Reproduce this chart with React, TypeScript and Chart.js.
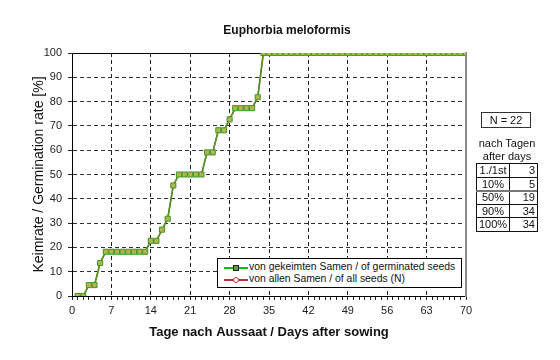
import React, { useEffect, useRef } from 'react';
import { Chart, registerables } from 'chart.js';

Chart.register(...registerables);

const chartTitle = 'Euphorbia meloformis';
const xTitle = 'Tage nach Aussaat / Days after sowing';
const yTitle = 'Keimrate / Germination rate [%]';
const seriesNames = ['von gekeimten Samen / of germinated seeds', 'von allen Samen / of all seeds (N)'];

const days = [
  1, 2, 3, 4, 5, 6, 7, 8, 9, 10, 11, 12, 13, 14, 15, 16, 17, 18, 19, 20,
  21, 22, 23, 24, 25, 26, 27, 28, 29, 30, 31, 32, 33, 34, 35, 36, 37, 38, 39, 40,
  41, 42, 43, 44, 45, 46, 47, 48, 49, 50, 51, 52, 53, 54, 55, 56, 57, 58, 59, 60,
  61, 62, 63, 64, 65, 66, 67, 68, 69, 70,
];

const germinatedPct = [
  0, 0, 4.5, 4.5, 13.6, 18.2, 18.2, 18.2, 18.2, 18.2, 18.2, 18.2, 18.2, 22.7, 22.7, 27.3, 31.8, 45.5, 50, 50,
  50, 50, 50, 59.1, 59.1, 68.2, 68.2, 72.7, 77.3, 77.3, 77.3, 77.3, 81.8, 100, 100, 100, 100, 100, 100, 100,
  100, 100, 100, 100, 100, 100, 100, 100, 100, 100, 100, 100, 100, 100, 100, 100, 100, 100, 100, 100,
  100, 100, 100, 100, 100, 100, 100, 100, 100, 100,
];

const allSeedsPct = [
  0, 0, 4.5, 4.5, 13.6, 18.2, 18.2, 18.2, 18.2, 18.2, 18.2, 18.2, 18.2, 22.7, 22.7, 27.3, 31.8, 45.5, 50, 50,
  50, 50, 50, 59.1, 59.1, 68.2, 68.2, 72.7, 77.3, 77.3, 77.3, 77.3, 81.8, 100, 100, 100, 100, 100, 100, 100,
  100, 100, 100, 100, 100, 100, 100, 100, 100, 100, 100, 100, 100, 100, 100, 100, 100, 100, 100, 100,
  100, 100, 100, 100, 100, 100, 100, 100, 100, 100,
];

const xMin = 0;
const xMax = 70;
const xMajorStep = 7;
const yMin = 0;
const yMax = 100;
const yStep = 10;

const nLabel = 'N = 22';
const tableHeader = ['nach Tagen', 'after days'];
const tableLabels = ['1./1st', '10%', '50%', '90%', '100%'];
const tableDays = [3, 5, 19, 34, 34];

const FONT = '"Liberation Sans", Arial, sans-serif';

export default function App() {
  const canvasRef = useRef<HTMLCanvasElement | null>(null);

  useEffect(() => {
    const canvas = canvasRef.current;
    if (!canvas) return;
    const chart = new Chart(canvas, {
      type: 'line',
      data: {
        datasets: [
          {
            label: seriesNames[0],
            data: days.map((d, i) => ({ x: d, y: germinatedPct[i] })),
            borderColor: '#4a9a22',
            borderWidth: 1.5,
            pointStyle: 'rect',
            pointRadius: 3.6,
            pointBackgroundColor: '#b4b44c',
            pointBorderColor: '#3a9a2a',
            pointBorderWidth: 1,
            tension: 0,
            order: 0,
          },
          {
            label: seriesNames[1],
            data: days.map((d, i) => ({ x: d, y: allSeedsPct[i] })),
            borderColor: '#b04030',
            borderWidth: 1.5,
            pointStyle: 'circle',
            pointRadius: 2,
            pointBackgroundColor: '#ffffff',
            pointBorderColor: '#c0403a',
            pointBorderWidth: 1,
            tension: 0,
            order: 1,
          },
        ],
      },
      options: {
        animation: false,
        responsive: true,
        maintainAspectRatio: false,
        layout: { padding: { left: 0, right: 94, top: 53, bottom: 0 } },
        plugins: {
          legend: { display: false },
          tooltip: { enabled: false },
          title: { display: false },
        },
        scales: {
          x: {
            type: 'linear',
            position: 'bottom',
            min: xMin,
            max: xMax,
            afterFit: (s: any) => { s.height = 64; },
            afterBuildTicks: (s: any) => {
              const t = [];
              for (let v = xMin; v <= xMax; v++) t.push({ value: v });
              s.ticks = t;
            },
            ticks: {
              autoSkip: false,
              maxRotation: 0,
              padding: 4,
              color: '#222',
              font: { family: FONT, size: 11 },
              callback: (v: any) => (Number(v) % xMajorStep === 0 ? String(v) : ''),
            },
            grid: {
              color: (ctx: any) => {
                const v = ctx.tick ? ctx.tick.value : 0;
                return v % xMajorStep === 0 && v !== xMin && v !== xMax ? '#222' : 'rgba(0,0,0,0)';
              },
              lineWidth: 1,
              drawTicks: true,
              tickLength: 4,
              tickColor: '#222',
            },
            border: { display: true, color: '#000', width: 1, dash: [4, 3] },
            title: {
              display: true,
              text: xTitle,
              color: '#111',
              font: { family: FONT, size: 13, weight: 'bold' },
              padding: { top: 20, bottom: 20 },
            },
          },
          y: {
            type: 'linear',
            position: 'left',
            min: yMin,
            max: yMax,
            afterFit: (s: any) => { s.width = 72; },
            ticks: {
              stepSize: yStep,
              padding: 6,
              color: '#222',
              font: { family: FONT, size: 11 },
            },
            grid: {
              color: (ctx: any) => {
                const v = ctx.tick ? ctx.tick.value : 0;
                return v !== yMin && v !== yMax ? '#333' : 'rgba(0,0,0,0)';
              },
              lineWidth: 1,
              tickLength: 4,
              tickColor: '#222',
            },
            border: { display: true, color: '#000', width: 1, dash: [4, 3] },
            title: {
              display: true,
              text: yTitle,
              color: '#111',
              font: { family: FONT, size: 14 },
              padding: { top: 31, bottom: 0 },
            },
          },
          xTop: {
            type: 'linear',
            position: 'top',
            min: xMin,
            max: xMax,
            afterFit: (s: any) => { s.height = 0; },
            ticks: { display: false },
            grid: { display: false, drawTicks: false },
            border: { display: true, color: '#000', width: 1 },
          },
          yRight: {
            type: 'linear',
            position: 'right',
            min: yMin,
            max: yMax,
            afterFit: (s: any) => { s.width = 0; },
            ticks: { display: false },
            grid: { display: false, drawTicks: false },
            border: { display: true, color: '#8a8a8a', width: 2 },
          },
        },
      } as any,
    });
    return () => chart.destroy();
  }, []);

  const cellBase: React.CSSProperties = {
    position: 'absolute',
    height: 13,
    lineHeight: '13px',
    fontSize: 11,
    color: '#111',
  };

  const rowTops = [163, 177, 190, 204, 217];

  return (
    <div style={{ position: 'absolute', left: 0, top: 0, width: 560, height: 360, background: '#fff', fontFamily: FONT }}>
      <canvas ref={canvasRef} style={{ position: 'absolute', left: 0, top: 0 }} />
      <div style={{ position: 'absolute', left: 0, width: 574, top: 23, textAlign: 'center', fontSize: 12, fontWeight: 'bold', color: '#111' }}>
        {chartTitle}
      </div>

      {/* legend */}
      <div style={{ position: 'absolute', left: 217, top: 258, width: 243, height: 28, border: '1px solid #000', background: '#fff' }}>
        {seriesNames.map((name, i) => (
          <div key={name} style={{ position: 'absolute', left: 6, top: 2 + i * 12, height: 12, width: 236, fontSize: 10.4, lineHeight: '12px', color: '#111', whiteSpace: 'nowrap' }}>
            <div style={{ position: 'absolute', left: 0, top: 6, width: 24, height: 1.5, background: i === 0 ? '#10c010' : '#c03030' }} />
            <div style={{
              position: 'absolute', left: 9, top: 3.5, width: 4, height: 4,
              border: i === 0 ? '1px solid #222' : '1px solid #c03030',
              background: i === 0 ? '#6a9a3a' : '#fff',
              borderRadius: i === 0 ? 0 : 3,
            }} />
            <span style={{ position: 'absolute', left: 25, top: 0 }}>{name}</span>
          </div>
        ))}
      </div>

      {/* N box */}
      <div style={{ position: 'absolute', left: 481, top: 112, width: 48, height: 14, border: '1px solid #333', fontSize: 11, lineHeight: '14px', textAlign: 'center', color: '#111' }}>
        {nLabel}
      </div>
      {tableHeader.map((h, i) => (
        <div key={h} style={{ position: 'absolute', left: 470, width: 74, top: 137 + i * 13, fontSize: 11, lineHeight: '13px', textAlign: 'center', color: '#111' }}>
          {h}
        </div>
      ))}
      <div style={{ position: 'absolute', left: 476, top: 163, width: 60, height: 67, border: '1px solid #111' }} />
      <div style={{ position: 'absolute', left: 509, top: 163, width: 1, height: 68, background: '#111' }} />
      {[177, 204, 217].map((y) => (
        <div key={y} style={{ position: 'absolute', left: 476, top: y, width: 61, height: 1, background: '#111' }} />
      ))}
      <div style={{ position: 'absolute', left: 476, top: 189.5, width: 61, height: 2, background: '#777' }} />
      {tableLabels.map((lab, i) => (
        <React.Fragment key={lab}>
          <div style={{ ...cellBase, left: 477, width: 32, top: rowTops[i] + 1, textAlign: 'center' }}>{lab}</div>
          <div style={{ ...cellBase, left: 510, width: 25, top: rowTops[i] + 1, textAlign: 'right' }}>{tableDays[i]}</div>
        </React.Fragment>
      ))}
    </div>
  );
}
